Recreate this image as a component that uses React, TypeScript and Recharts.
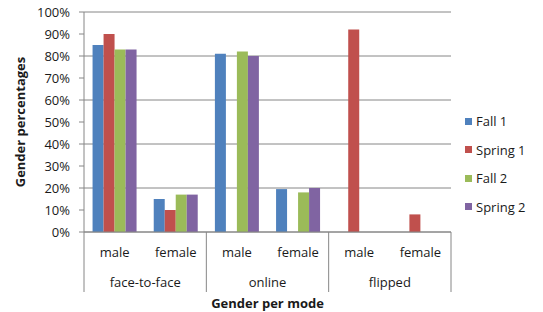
import React from 'react';
import { BarChart, Bar, XAxis, YAxis, CartesianGrid, Legend } from 'recharts';

const CATEGORIES = ['male', 'female', 'male', 'female', 'male', 'female'];
const MODES = ['face-to-face', 'online', 'flipped'];
const SERIES_NAMES = ['Fall 1', 'Spring 1', 'Fall 2', 'Spring 2'];
const SERIES_COLORS = ['#4F81BD', '#C0504D', '#9BBB59', '#8064A2'];
const FALL1: (number | null)[] = [85, 15, 81, 19.5, null, null];
const SPRING1: (number | null)[] = [90, 10, null, null, 92, 8];
const FALL2: (number | null)[] = [83, 17, 82, 18, null, null];
const SPRING2: (number | null)[] = [83, 17, 80, 20, null, null];
const Y_TICKS = [0, 10, 20, 30, 40, 50, 60, 70, 80, 90, 100];

const SERIES = [FALL1, SPRING1, FALL2, SPRING2];

const data = CATEGORIES.map((g, i) => {
  const row: Record<string, any> = { key: `${MODES[Math.floor(i / 2)]}-${g}` };
  SERIES_NAMES.forEach((n, s) => {
    row[n] = SERIES[s][i];
  });
  return row;
});

const W = 543;
const H = 312;
const M_TOP = 12;
const M_RIGHT = 92;
const Y_W = 84;
const X_H = 80;
const PLOT_W = W - Y_W - M_RIGHT;
const AXIS_Y = H - X_H;
const GRID = '#868686';
const FONT = '"Open Sans", sans-serif';
const TEXT = '#1a1a1a';

const XTick = (props: any) => {
  const { x, index } = props;
  const band = PLOT_W / CATEGORIES.length;
  const last = CATEGORIES.length - 1;
  return (
    <g>
      <text x={x} y={AXIS_Y + 20} textAnchor="middle" dominantBaseline="central" fontSize={13} fontFamily={FONT} fill={TEXT}>
        {CATEGORIES[index]}
      </text>
      {index % 2 === 0 && (
        <line x1={x - band / 2} y1={AXIS_Y} x2={x - band / 2} y2={AXIS_Y + 60} stroke={GRID} strokeWidth={1} />
      )}
      {index % 2 === 0 && (
        <text x={x + band / 2} y={AXIS_Y + 50} textAnchor="middle" dominantBaseline="central" fontSize={13} fontFamily={FONT} fill={TEXT}>
          {MODES[index / 2]}
        </text>
      )}
      {index === last && (
        <line x1={x + band / 2} y1={AXIS_Y} x2={x + band / 2} y2={AXIS_Y + 60} stroke={GRID} strokeWidth={1} />
      )}
    </g>
  );
};

const LegendContent = () => (
  <div style={{ fontFamily: FONT, fontSize: 13, color: TEXT }}>
    {SERIES_NAMES.map((n, i) => (
      <div key={n} style={{ height: 28.5, display: 'flex', alignItems: 'center' }}>
        <span style={{ display: 'inline-block', width: 7, height: 7, background: SERIES_COLORS[i], marginRight: 4 }} />
        <span>{n}</span>
      </div>
    ))}
  </div>
);

export default function App() {
  return (
    <div>
      <style>{`body{margin:0;background:#fff}`}</style>
      <BarChart
        width={W}
        height={H}
        data={data}
        margin={{ top: M_TOP, right: M_RIGHT, bottom: 0, left: 0 }}
        barCategoryGap="14%"
        barGap={0}
      >
        <CartesianGrid vertical={false} stroke={GRID} strokeWidth={1} />
        <XAxis
          dataKey="key"
          height={X_H}
          interval={0}
          tickLine={false}
          axisLine={{ stroke: GRID }}
          tick={<XTick />}
          label={{
            value: 'Gender per mode',
            position: 'insideBottom',
            offset: 4,
            style: { fontFamily: FONT, fontSize: 13, fontWeight: 700, fill: TEXT },
          }}
        />
        <YAxis
          width={Y_W}
          domain={[0, 100]}
          ticks={Y_TICKS}
          tickFormatter={(v: number) => `${v}%`}
          tickSize={5}
          tickMargin={9}
          tickLine={{ stroke: GRID }}
          axisLine={{ stroke: GRID }}
          tick={{ fontFamily: FONT, fontSize: 13, fill: TEXT }}
          label={{
            value: 'Gender percentages',
            angle: -90,
            position: 'insideLeft',
            offset: 20,
            style: { textAnchor: 'middle', fontFamily: FONT, fontSize: 13, fontWeight: 700, fill: TEXT },
          }}
        />
        {SERIES_NAMES.map((n, i) => (
          <Bar key={n} dataKey={n} fill={SERIES_COLORS[i]} isAnimationActive={false} />
        ))}
        <Legend
          layout="vertical"
          align="center"
          verticalAlign="middle"
          content={<LegendContent />}
          wrapperStyle={{ left: 465, top: 107, width: 78 }}
        />
      </BarChart>
    </div>
  );
}
